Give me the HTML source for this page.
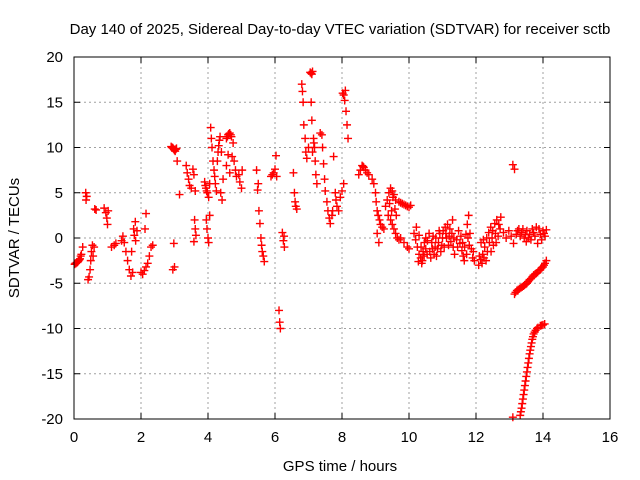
<!DOCTYPE html>
<html><head><meta charset="utf-8"><style>
body{margin:0;background:#fff}
svg{display:block;font-family:"Liberation Sans",sans-serif}
</style></head><body>
<svg id="chart" width="640" height="480">
<text x="340" y="34" font-size="15" text-anchor="middle" fill="#000">Day 140 of 2025, Sidereal Day-to-day VTEC variation (SDTVAR) for receiver sctb</text>
<text x="340" y="471" font-size="15" text-anchor="middle" fill="#000">GPS time / hours</text>
<text transform="translate(19,238) rotate(-90)" font-size="15" text-anchor="middle" fill="#000">SDTVAR / TECUs</text>
<g id="grid"></g>
<g id="ticks"></g>
<g id="marks"></g>
<rect x="74" y="57" width="536" height="362" fill="none" stroke="#000" stroke-width="1"/>
</svg>
<script>
const xTicks=[0,2,4,6,8,10,12,14,16];
const yTicks=[-20,-15,-10,-5,0,5,10,15,20];
const samples=[
[0.02,-2.9],[0.04,-2.8],[0.06,-2.8],[0.08,-2.7],[0.1,-2.7],[0.12,-2.6],[0.14,-2.5],[0.16,-2.4],[0.18,-2.3],[0.2,-2.0],[0.22,-1.8],[0.26,-1.0],
[0.35,5.0],[0.38,4.6],[0.36,4.2],
[0.42,-4.6],[0.45,-4.3],[0.48,-3.5],[0.5,-2.5],[0.52,-1.5],[0.55,-0.8],[0.57,-2.0],[0.6,-1.0],
[0.62,3.2],[0.66,3.1],
[0.9,3.3],[0.95,2.8],[0.98,2.2],[1.0,1.5],[1.02,3.0],
[1.12,-1.0],[1.2,-0.8],[1.25,-0.6],
[1.42,-0.3],[1.46,0.2],[1.5,-0.5],[1.55,-1.5],[1.6,-2.5],[1.65,-3.5],[1.7,-4.2],[1.75,-3.8],[1.72,-1.5],[1.78,1.0],[1.8,0.3],[1.84,-0.3],[1.88,0.8],[1.83,1.8],
[2.0,-3.8],[2.05,-4.0],[2.1,-3.6],[2.15,-3.2],[2.2,-2.8],[2.25,-2.0],[2.12,1.0],[2.15,2.7],[2.3,-1.0],[2.35,-0.8],
[2.9,10.1],[2.92,10.0],[2.94,10.0],[2.96,9.9],[2.98,9.8],[3.0,9.7],[3.02,9.6],[3.04,9.8],[3.06,9.9],[3.08,8.5],[2.95,-3.5],[3.0,-3.2],[2.98,-0.6],[3.15,4.8],
[3.35,8.0],[3.38,7.2],[3.42,6.5],[3.45,5.8],[3.5,5.5],[3.55,7.6],[3.58,7.0],[3.62,5.2],
[3.6,2.0],[3.62,1.0],[3.58,-0.4],[3.64,0.3],
[3.9,6.2],[3.92,5.8],[3.94,5.5],[3.96,5.2],[3.98,5.0],[4.02,4.5],[4.05,6.0],[3.95,2.0],[3.97,1.0],[4.0,0.0],[4.02,-0.5],[4.05,2.5],
[4.08,12.2],[4.1,11.0],[4.12,10.0],[4.15,8.5],[4.18,7.5],[4.2,6.8],[4.22,6.0],[4.25,5.2],[4.28,8.5],[4.32,10.2],[4.36,11.2],[4.4,9.5],[4.38,5.0],[4.42,4.2],[4.45,6.5],[4.3,9.5],[4.34,10.8],
[4.55,11.0],[4.58,11.2],[4.6,11.4],[4.62,11.5],[4.65,11.6],[4.68,11.4],[4.7,11.2],[4.75,10.5],[4.6,9.2],[4.55,8.0],[4.65,7.2],[4.72,9.0],[4.78,8.5],[4.82,7.5],[4.85,6.8],
[4.92,7.0],[4.95,6.2],[5.0,5.5],[5.02,7.5],
[5.45,7.5],[5.5,6.0],[5.48,5.3],[5.52,3.0],[5.55,1.6],[5.58,0.0],[5.6,-0.8],[5.62,-1.5],[5.65,-2.0],[5.68,-2.6],
[5.88,6.8],[5.92,7.0],[5.96,7.2],[6.0,7.6],[6.03,9.1],[6.05,6.8],
[6.12,-8.0],[6.14,-9.3],[6.16,-10.0],[6.22,0.6],[6.25,-0.3],[6.28,-1.0],[6.27,0.2],
[6.55,7.2],[6.58,5.0],[6.6,4.0],[6.62,3.5],[6.65,3.2],
[6.8,17.0],[6.82,16.2],[6.84,15.0],[6.86,12.5],[6.9,11.0],[6.92,9.5],[6.95,8.8],[7.0,10.0],
[7.05,18.3],[7.08,18.2],[7.1,18.1],[7.12,18.4],[7.08,15.0],[7.1,13.0],[7.15,11.0],[7.18,10.0],[7.2,8.5],[7.22,7.0],[7.25,6.0],[7.12,9.5],[7.16,10.5],
[7.35,11.6],[7.4,11.4],[7.42,10.0],[7.45,8.2],[7.48,6.5],[7.5,5.2],
[7.55,4.0],[7.58,3.0],[7.62,2.2],[7.65,1.6],[7.7,2.5],[7.72,3.0],
[7.75,9.0],[7.8,5.0],[7.82,4.2],[7.85,3.5],[7.9,3.0],[7.95,4.5],
[8.02,16.0],[8.05,15.8],[8.08,15.2],[8.1,16.3],[8.12,14.0],[8.15,12.5],[8.18,11.0],[8.05,6.0],[8.0,5.2],
[8.5,7.0],[8.55,7.5],[8.6,8.0],[8.63,7.9],[8.65,7.8],[8.7,7.5],[8.75,7.2],[8.8,7.0],
[8.9,6.5],[8.95,6.0],[9.0,5.0],[9.02,4.0],[9.05,3.0],[9.08,2.5],[9.12,2.0],[9.15,1.5],[9.2,1.2],[9.25,1.0],[9.1,-0.5],[9.05,0.5],
[9.3,3.5],[9.35,4.2],[9.4,5.0],[9.45,5.5],[9.5,5.2],[9.55,4.8],[9.6,4.2],[9.38,2.5],[9.45,2.0],[9.5,1.5],[9.55,1.0],[9.6,0.5],[9.65,0.0],[9.7,-0.2],
[9.42,3.8],[9.52,4.5],[9.58,3.2],[9.62,2.5],[9.48,3.0],
[9.7,4.0],[9.75,3.9],[9.8,3.8],[9.85,3.7],[9.9,3.6],[9.95,3.5],[10.0,3.4],[10.05,3.6],[9.75,0.0],[9.85,-0.5],[9.95,-1.0],[10.0,-1.2],
[10.15,0.5],[10.2,-0.2],[10.25,-1.0],[10.3,-1.8],[10.35,-2.2],[10.4,-2.5],[10.45,-2.0],[10.5,-1.2],[10.55,-0.3],[10.6,0.5],[10.22,1.2],[10.3,0.3],[10.42,-1.5],[10.5,0.0],
[10.28,-2.6],[10.36,-1.0],[10.46,-0.5],[10.54,-1.8],[10.38,-2.8],
[10.62,-1.5],[10.68,-0.5],[10.72,0.2],[10.78,-1.0],[10.82,-2.0],[10.88,-0.5],[10.92,0.5],[10.98,-0.8],[11.02,0.8],[11.08,1.2],[11.12,0.0],[11.18,-0.8],[11.22,1.0],[11.28,0.5],[11.32,-1.0],[11.36,-1.8],[11.3,2.0],[11.15,1.5],[10.95,-1.5],[10.75,-1.8],
[10.65,-2.2],[10.7,-1.2],[10.8,0.0],[10.85,-1.2],[10.9,0.8],[11.0,0.0],[11.05,-1.0],[11.1,0.5],[11.2,0.2],[11.25,-0.4],[11.34,0.0],
[11.42,-0.2],[11.48,0.8],[11.52,-0.6],[11.58,-1.4],[11.62,-2.0],[11.66,-1.0],[11.7,0.4],[11.74,1.5],[11.78,2.5],[11.82,0.5],[11.86,-1.2],[11.9,-2.2],[11.95,-2.5],[11.72,-1.8],
[11.45,-1.0],[11.55,0.2],[11.65,-2.5],[11.76,0.0],[11.8,-0.8],[11.92,-1.5],[11.6,-0.5],
[12.08,-3.0],[12.14,-2.4],[12.2,-1.8],[12.26,-1.0],[12.32,0.0],[12.38,0.6],[12.44,1.2],[12.5,0.8],[12.56,1.6],[12.62,2.0],[12.68,1.5],[12.74,2.3],[12.15,-0.5],[12.3,-2.5],[12.45,-1.5],[12.6,-0.5],
[12.1,-2.0],[12.18,-2.8],[12.24,-2.2],[12.34,-1.5],[12.4,-0.5],[12.48,0.0],[12.52,-0.8],[12.58,0.5],[12.66,0.2],[12.72,1.0],[12.22,-0.2],
[12.82,0.6],[12.9,0.0],[12.98,0.8],[13.05,0.2],[13.12,-0.6],[13.2,0.4],[13.28,1.0],[13.36,0.6],[13.44,0.0],[13.52,0.8],[13.6,0.4],[13.68,1.0],[13.76,0.2],[13.84,-0.6],[13.92,0.4],[14.0,0.8],[14.06,0.2],[14.1,0.9],[13.5,-0.4],[13.8,1.2],
[13.4,1.0],[13.48,0.4],[13.56,0.0],[13.64,-0.2],[13.72,0.6],[13.88,1.0],[13.96,-0.2],[14.03,0.5],[13.32,0.2],[13.24,0.8],
[13.1,8.1],[13.15,7.6],
[13.15,-6.2],[13.22,-5.8],[13.3,-5.6],[13.38,-5.4],[13.45,-5.2],[13.52,-5.0],[13.6,-4.6],[13.68,-4.3],[13.76,-4.0],[13.84,-3.8],[13.92,-3.5],[14.0,-3.2],[14.06,-2.8],[14.1,-2.5],
[13.18,-6.0],[13.26,-5.7],[13.34,-5.5],[13.42,-5.3],[13.49,-5.1],[13.56,-4.8],[13.64,-4.5],[13.72,-4.1],[13.8,-3.9],[13.88,-3.6],[13.96,-3.3],[14.03,-3.0],
[13.1,-19.8],[13.32,-19.6],[13.34,-19.2],[13.36,-18.8],[13.38,-18.3],[13.4,-17.8],[13.42,-17.3],[13.44,-16.8],[13.46,-16.3],[13.48,-15.8],[13.5,-15.3],[13.52,-14.8],[13.54,-14.3],[13.56,-13.8],[13.58,-13.3],[13.6,-12.8],[13.62,-12.4],[13.64,-12.0],[13.66,-11.6],[13.68,-11.2],[13.7,-10.9],[13.72,-10.6],[13.75,-10.4],[13.78,-10.2],[13.82,-10.0],[13.85,-9.9],[13.92,-9.7],[13.96,-9.65],[14.0,-9.6],[14.05,-9.5]
];
const L=74,R=610,T=57,B=419;
const xScale=t=>L+(t-0)/16*(R-L);
const yScale=v=>B-(v+20)/40*(B-T);
const NS='http://www.w3.org/2000/svg';
const grid=document.getElementById('grid'),ticks=document.getElementById('ticks'),marks=document.getElementById('marks');
function mk(tag,attrs,parent){const e=document.createElementNS(NS,tag);for(const k in attrs)e.setAttribute(k,attrs[k]);parent.appendChild(e);return e;}
xTicks.forEach(t=>{const x=xScale(t);
 if(t>0&&t<16){const g=mk('line',{x1:x,x2:x,y1:T,y2:B,stroke:'#a0a0a0','stroke-dasharray':'2,3'},grid);
 
 }
 mk('line',{x1:x,x2:x,y1:B,y2:B-6,stroke:'#000'},ticks);mk('line',{x1:x,x2:x,y1:T,y2:T+6,stroke:'#000'},ticks);
 const lb=mk('text',{x:x,y:B+23,'font-size':15,'text-anchor':'middle'},ticks);lb.textContent=t;
 
 });
yTicks.forEach(v=>{const y=yScale(v);
 if(v>-20&&v<20){const g=mk('line',{x1:L,x2:R,y1:y,y2:y,stroke:'#a0a0a0','stroke-dasharray':'2,3'},grid);
 
 }
 mk('line',{x1:L,x2:L+6,y1:y,y2:y,stroke:'#000'},ticks);mk('line',{x1:R,x2:R-6,y1:y,y2:y,stroke:'#000'},ticks);
 const lb=mk('text',{x:L-11,y:y+5,'font-size':15,'text-anchor':'end'},ticks);lb.textContent=v;
 
 });
samples.forEach(([t,v])=>{const x=xScale(t),y=yScale(v);
 const p=mk('path',{d:`M${x-4},${y}H${x+4}M${x},${y-4}V${y+4}`,stroke:'#ff0000','stroke-width':1.4,fill:'none'},marks);
 
 });
</script>
</body></html>
